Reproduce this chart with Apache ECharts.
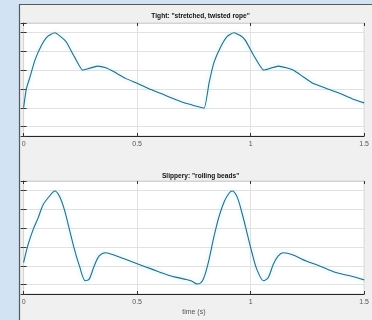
<!DOCTYPE html>
<html><head><meta charset="utf-8">
<script src="https://cdn.jsdelivr.net/npm/echarts@6/dist/echarts.min.js"></script>
<style>html,body{margin:0;padding:0;background:#d2e3f3;}#c{width:372px;height:320px;}</style>
</head><body><div id="c"></div>
<script>
const xTicks = ['0', '0.5', '1', '1.5'];
const tightTitle = 'Tight: "stretched, twisted rope"';
const slipTitle = 'Slippery: "rolling beads"';
const xName = 'time (s)';
const tightT = [0, 0.012, 0.028, 0.050, 0.079, 0.106, 0.137, 0.166, 0.188, 0.224, 0.260, 0.289, 0.326, 0.362, 0.398, 0.449, 0.500, 0.564, 0.638, 0.708, 0.752, 0.795, 0.817, 0.839, 0.868, 0.897, 0.926, 0.955, 0.977, 1.013, 1.057, 1.086, 1.122, 1.157, 1.187, 1.231, 1.274, 1.331, 1.391, 1.449, 1.5];
const tightV = [1.0, 2.0, 2.63, 3.53, 4.32, 4.79, 4.98, 4.75, 4.49, 3.70, 3.0, 3.09, 3.21, 3.12, 2.91, 2.56, 2.30, 1.95, 1.59, 1.26, 1.11, 0.98, 2.32, 3.42, 4.23, 4.79, 4.98, 4.84, 4.58, 3.79, 3.0, 3.09, 3.21, 3.12, 3.0, 2.65, 2.30, 2.04, 1.77, 1.47, 1.26];
const slipT = [0, 0.020, 0.042, 0.064, 0.086, 0.115, 0.137, 0.159, 0.180, 0.202, 0.224, 0.246, 0.272, 0.289, 0.311, 0.333, 0.362, 0.398, 0.449, 0.500, 0.565, 0.638, 0.708, 0.737, 0.766, 0.788, 0.810, 0.839, 0.861, 0.884, 0.905, 0.918, 0.940, 0.962, 0.984, 1.006, 1.027, 1.057, 1.078, 1.100, 1.122, 1.143, 1.187, 1.245, 1.304, 1.376, 1.449, 1.5];
const slipV = [1.17, 2.13, 2.92, 3.54, 4.24, 4.71, 4.97, 4.67, 3.97, 2.92, 1.87, 0.99, 0.2, 0.29, 0.99, 1.52, 1.69, 1.57, 1.34, 1.11, 0.82, 0.50, 0.29, 0.2, 0.03, 0.2, 0.99, 2.57, 3.62, 4.41, 4.85, 4.97, 4.67, 3.80, 2.75, 1.69, 0.82, 0.2, 0.38, 1.08, 1.52, 1.69, 1.57, 1.25, 0.99, 0.64, 0.43, 0.25];

const pairs = (t, v) => t.map((x, i) => [x, v[i]]);
const chart = echarts.init(document.getElementById('c'), null, {renderer: 'canvas'});
const font = 'Liberation Sans, Arial, sans-serif';
const gridTops = [23, 181];
function xAx(gi, showLabel, pos) {
  return {
    type: 'value', gridIndex: gi, min: 0, max: 1.5, interval: 0.5, position: pos,
    axisLine: {show: true, onZero: false, lineStyle: {color: pos === 'bottom' ? '#262626' : '#d4d4d4', width: 1}},
    axisTick: {show: true, inside: true, length: 3, lineStyle: {color: '#333'}},
    axisLabel: {show: showLabel, fontSize: 7, color: '#555', fontFamily: font, margin: 5,
      formatter: v => xTicks[Math.round(v / 0.5)]},
    splitLine: {show: pos === 'bottom', lineStyle: {color: '#e2e2e2'}}
  };
}
function yAx(gi, pos) {
  return {
    type: 'value', gridIndex: gi, min: -0.5, max: 5.5, position: pos,
    axisLine: {show: true, lineStyle: {color: pos === 'left' ? '#262626' : '#d4d4d4'}},
    axisTick: {show: true, inside: true, length: 3, lineStyle: {color: '#333'}},
    axisLabel: {show: false},
    splitLine: {show: pos === 'left', lineStyle: {color: '#e2e2e2'}}
  };
}
const lineStyle = {color: '#2f6b80', width: 1.1, shadowColor: 'rgba(150,230,248,0.9)', shadowBlur: 4};
const xb = xAx(1, true, 'bottom');
xb.name = xName; xb.nameLocation = 'middle'; xb.nameGap = 15;
xb.nameTextStyle = {fontSize: 7, color: '#555', fontFamily: font};
chart.setOption({
  animation: false,
  backgroundColor: 'transparent',
  graphic: [
    {type: 'rect', shape: {x: 19.5, y: 4.5, width: 360, height: 320}, style: {fill: '#f0f0f0', stroke: '#5a5a5a', lineWidth: 1.2}, z: -10}
  ],
  title: [
    {text: tightTitle, left: 195.6, top: 8, textAlign: 'center', textStyle: {fontSize: 6.6, fontWeight: 'bold', color: '#111', fontFamily: font}},
    {text: slipTitle, left: 195.6, top: 168, textAlign: 'center', textStyle: {fontSize: 6.6, fontWeight: 'bold', color: '#111', fontFamily: font}}
  ],
  grid: gridTops.map(t => ({left: 23.6, right: 4.3, top: t, height: 113, show: true, backgroundColor: '#ffffff', borderColor: '#d4d4d4', borderWidth: 1})),
  xAxis: [xAx(0, true, 'bottom'), xAx(0, false, 'top'), xb, xAx(1, false, 'top')],
  yAxis: [yAx(0, 'left'), yAx(0, 'right'), yAx(1, 'left'), yAx(1, 'right')],
  series: [
    {type: 'line', xAxisIndex: 0, yAxisIndex: 0, data: pairs(tightT, tightV), showSymbol: false, smooth: 0.15, lineStyle: lineStyle},
    {type: 'line', xAxisIndex: 2, yAxisIndex: 2, data: pairs(slipT, slipV), showSymbol: false, smooth: 0.3, lineStyle: lineStyle}
  ]
});
</script></body></html>
